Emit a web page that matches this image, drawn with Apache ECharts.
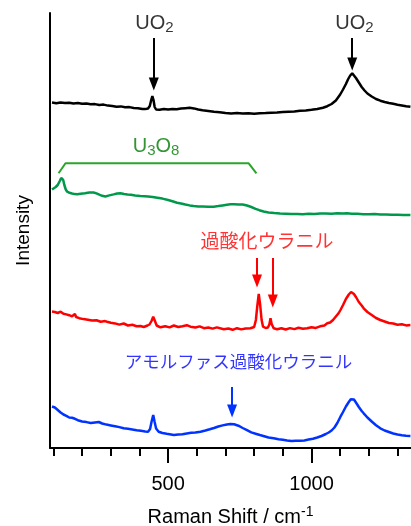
<!DOCTYPE html>
<html>
<head>
<meta charset="utf-8">
<script src="https://cdn.jsdelivr.net/npm/echarts@6/dist/echarts.min.js"></script>
<style>
  html, body { margin: 0; padding: 0; background: #fff; }
  #chart { width: 411px; height: 526px; }
</style>
</head>
<body>
<div id="chart"></div>
<script>
// raman shift (cm-1), intensity (arb., traces stacked as in the figure)
const uo2 = [[95,345.5],[110,344.8],[125,345.6],[140,344.9],[155,345.3],[170,344.5],[185,345.0],[200,344.2],[215,344.6],[230,343.8],[245,343.9],[260,343.0],[275,343.4],[290,342.4],[305,342.0],[320,341.3],[335,341.6],[350,340.7],[365,340.9],[380,340.0],[395,339.8],[410,339.0],[420,338.9],[430,339.5],[436,342],[441,348],[445,352],[449,348],[453,341],[458,338.5],[470,338.2],[485,338.9],[500,338.4],[515,339.0],[530,338.7],[545,339.4],[560,339.8],[575,340.2],[590,339.6],[605,338.5],[620,337.8],[640,337.0],[660,336.2],[680,335.8],[700,335.0],[720,334.6],[740,335.0],[760,334.4],[780,334.8],[800,334.3],[820,334.7],[840,334.9],[860,335.3],[880,335.5],[900,335.9],[920,336.3],[940,336.6],[960,337.2],[980,337.6],[1000,338.2],[1020,339.0],[1040,340.3],[1055,341.8],[1070,344.0],[1085,347.5],[1100,353.5],[1110,358.5],[1120,364],[1128,369],[1135,372.5],[1142,374.7],[1148,373.5],[1155,370],[1165,365.5],[1175,361],[1185,357.5],[1195,354.5],[1210,351.5],[1225,349],[1240,347.3],[1255,346],[1270,345],[1285,344.2],[1300,343.3],[1315,342.6],[1330,341.8],[1345,341.2]];
const u3o8 = [[95,258.5],[101,259.7],[108,261],[115,263],[122,267],[127,270],[130,270.7],[134,268],[138,263],[143,258.5],[148,256.3],[156,255.2],[165,254.5],[174,253.9],[183,253.7],[195,254.3],[210,254.8],[225,255.4],[240,255.5],[250,254.6],[260,253.3],[270,252.2],[281,251.5],[295,252.6],[310,253.6],[322,254.5],[334,254.7],[346,254],[358,253.4],[370,253.2],[385,252.5],[403,252],[418,251.8],[430,251.5],[446,251],[462,250.3],[480,249.4],[500,248],[515,246.8],[531,245.3],[545,244.5],[560,243.5],[575,242.6],[589,242],[605,241.5],[620,241.4],[640,241.2],[659,241.3],[675,241.9],[690,242.6],[705,243.3],[717,243.7],[730,243.8],[745,243.6],[760,243.5],[775,242.5],[790,241],[805,239.2],[818,237.8],[833,236.5],[850,235.6],[870,235],[890,234.6],[910,234.3],[930,234],[950,234.1],[970,233.8],[990,234.2],[1010,234.1],[1030,234.5],[1050,234.6],[1070,234.3],[1090,234.7],[1110,234.5],[1124,234.7],[1140,234.3],[1160,234.2],[1180,233.8],[1200,233.7],[1220,233.9],[1240,233.5],[1260,233.6],[1280,233.2],[1300,233.3],[1320,233.1],[1345,233]];
const peroxide = [[95,136.5],[105,136],[115,135],[125,136.3],[135,134.2],[145,133.6],[155,132.8],[165,131.7],[171,131.3],[175,134],[179,131],[190,129.8],[205,128.9],[220,128.2],[235,127.5],[250,127.8],[265,126.3],[280,126.9],[287,126.3],[300,125.2],[315,124.6],[330,123.4],[345,124.5],[360,122.5],[375,123.2],[390,121.8],[403,122],[415,121],[428,122.5],[435,123.5],[442,127],[448,131.3],[454,127],[460,122.5],[473,120.7],[490,121.8],[505,120.6],[520,122.5],[535,121.0],[550,121.8],[565,122.8],[578,121.3],[595,120.5],[610,121.6],[625,119.8],[640,120.5],[655,119.4],[670,120.6],[694,118.7],[710,119.5],[725,118.2],[740,119.8],[755,118.6],[770,119.5],[787,119.7],[800,121],[806,128],[811,142],[816,154],[821,143],[826,128],[831,121.3],[840,120],[848,120.5],[853,123.5],[857,129.7],[861,124],[868,119.7],[880,118.8],[895,119.8],[910,118.5],[925,119.9],[940,118.9],[955,120.2],[970,119.2],[985,119.7],[1000,120.8],[1015,120.1],[1030,121.7],[1045,122.5],[1055,124.7],[1065,125.5],[1075,128],[1085,131.5],[1095,135],[1101,138],[1110,143],[1120,149],[1130,153.5],[1138,156],[1142,156.3],[1148,154],[1155,151],[1165,146],[1175,142.5],[1182,139.7],[1195,136],[1210,133],[1225,130],[1240,128],[1255,126.5],[1270,125],[1285,124.5],[1300,123.3],[1315,123.8],[1330,122.6],[1345,123]];
const amorphous = [[95,41.5],[105,40.5],[115,38],[125,35.5],[135,33.5],[145,32.2],[155,30.5],[165,30.2],[175,29.2],[185,27.8],[200,26.5],[215,25.9],[230,25],[245,25.6],[258,26],[270,24.5],[285,23.4],[300,22.6],[315,21.8],[330,20.9],[345,19.7],[360,19.2],[375,18.6],[390,17.8],[405,17.2],[420,16.6],[430,16.3],[437,19],[442,26],[448,33],[453,26],[458,19.5],[467,16.3],[480,15],[495,14.2],[510,13.5],[520,13],[535,13.6],[550,13.8],[565,14.6],[580,15.2],[595,15.6],[613,16.3],[630,17.5],[645,18.7],[660,20],[675,21.5],[690,22.6],[705,23.5],[717,24],[730,23.7],[745,22.3],[760,20],[775,17.8],[790,15.6],[805,14.3],[820,13],[835,11.8],[850,10.5],[868,9.7],[885,8.8],[900,8.2],[915,7.6],[930,7.1],[945,7.3],[961,7.3],[975,7.6],[990,8.4],[1005,9.2],[1020,10.5],[1035,12],[1050,14],[1060,15.5],[1070,17.5],[1080,20.5],[1090,25],[1101,31.3],[1110,36],[1120,41.5],[1130,46],[1137,48.8],[1142,49.7],[1148,48.5],[1155,45.5],[1165,41],[1175,37],[1182,34.7],[1195,30.5],[1210,26.5],[1225,22.8],[1240,19.7],[1255,17.5],[1270,16],[1285,14.5],[1300,13.5],[1315,12.7],[1330,12.2],[1345,12]];

// bracket over the U3O8 bands
const u3o8Bracket = [[118,274.7],[142,284.7],[781,284.7],[808,274.7]];

// arrows: x, y start, y end
const blackArrows = [[450,410,364],[1142,410,384]];
const redArrows = [[810,190,167],[865,190,147]];
const blueArrows = [[723,61,37]];

const minorTicks = [100,200,300,400,500,600,700,800,900,1000,1100,1200,1300];
const majorTicks = [500,1000];

const FONT = "'Liberation Sans', 'Noto Sans CJK JP', sans-serif";

function arrowLines(list) {
  return list.map(a => [{ coord: [a[0], a[1]] }, { coord: [a[0], a[2]] }]);
}

function arrowMark(list, color) {
  return {
    silent: true,
    animation: false,
    symbol: ['none', 'triangle'],
    symbolSize: [10, 13],
    label: { show: false },
    lineStyle: { color: color, width: 2, type: 'solid' },
    emphasis: { disabled: true },
    data: arrowLines(list)
  };
}

function textLabel(x, y, text, color, rich, size) {
  return {
    type: 'scatter',
    silent: true,
    symbolSize: 0,
    itemStyle: { color: 'rgba(0,0,0,0)' },
    data: [[x, y]],
    label: {
      show: true,
      position: 'inside',
      formatter: text,
      color: color,
      fontSize: size || 20,
      fontFamily: FONT,
      rich: rich
    },
    z: 5
  };
}

function chemRich(color) {
  return {
    b: { fontSize: 20, lineHeight: 24, color: color, fontFamily: FONT },
    s: { fontSize: 15, lineHeight: 16, verticalAlign: 'bottom', color: color, fontFamily: FONT }
  };
}

const chart = echarts.init(document.getElementById('chart'));
chart.setOption({
  animation: false,
  backgroundColor: '#fff',
  grid: { left: 50, right: 0, top: 13, bottom: 78, outerBoundsMode: 'none' },
  xAxis: [{
    type: 'value',
    min: 88,
    max: 1347,
    axisLine: { show: true, lineStyle: { color: '#000', width: 2 } },
    axisTick: { show: true, customValues: minorTicks, length: 8, lineStyle: { color: '#000', width: 2 } },
    axisLabel: { show: false },
    splitLine: { show: false }
  }, {
    type: 'value',
    position: 'bottom',
    min: 88,
    max: 1347,
    axisLine: { show: false },
    axisTick: { show: true, customValues: majorTicks, length: 15, lineStyle: { color: '#000', width: 2 } },
    axisLabel: { show: true, customValues: majorTicks, formatter: v => String(v), margin: 26, fontSize: 20, color: '#000', fontFamily: FONT },
    splitLine: { show: false },
    name: '{a|Raman Shift / cm}{p|-1}',
    nameLocation: 'middle',
    nameGap: 57,
    nameTextStyle: {
      rich: {
        a: { fontSize: 20, lineHeight: 24, color: '#000', fontFamily: FONT },
        p: { fontSize: 14, lineHeight: 14, verticalAlign: 'top', color: '#000', fontFamily: FONT }
      }
    }
  }],
  yAxis: {
    type: 'value',
    min: 0,
    max: 435,
    axisLine: { show: true, lineStyle: { color: '#000', width: 2 } },
    axisTick: { show: false },
    axisLabel: { show: false },
    splitLine: { show: false },
    name: 'Intensity',
    nameLocation: 'middle',
    nameGap: 17,
    nameTextStyle: { fontSize: 19, color: '#000', fontFamily: FONT }
  },
  series: [{
    type: 'line',
    data: uo2,
    showSymbol: false,
    lineStyle: { color: '#000', width: 2.5 },
    markLine: arrowMark(blackArrows, '#000')
  }, {
    type: 'line',
    data: u3o8,
    showSymbol: false,
    lineStyle: { color: '#00994c', width: 2.5 }
  }, {
    type: 'line',
    data: u3o8Bracket,
    showSymbol: false,
    lineStyle: { color: '#2aa52a', width: 2 }
  }, {
    type: 'line',
    data: peroxide,
    showSymbol: false,
    lineStyle: { color: '#ff0000', width: 2.5 },
    markLine: arrowMark(redArrows, '#ff0000')
  }, {
    type: 'line',
    data: amorphous,
    showSymbol: false,
    lineStyle: { color: '#0033ff', width: 2.5 },
    markLine: arrowMark(blueArrows, '#0033ff')
  },
  textLabel(452, 425, '{b|UO}{s|2}', '#000', chemRich('#000')),
  textLabel(1150, 425, '{b|UO}{s|2}', '#000', chemRich('#000')),
  textLabel(458, 302, '{b|U}{s|3}{b|O}{s|8}', '#007a00', chemRich('#007a00')),
  textLabel(845, 205.5, '過酸化ウラニル', '#ff0000', {}, 19),
  textLabel(745, 85, 'アモルファス過酸化ウラニル', '#0000ff', {}, 17.5)
  ]
});
</script>
</body>
</html>
